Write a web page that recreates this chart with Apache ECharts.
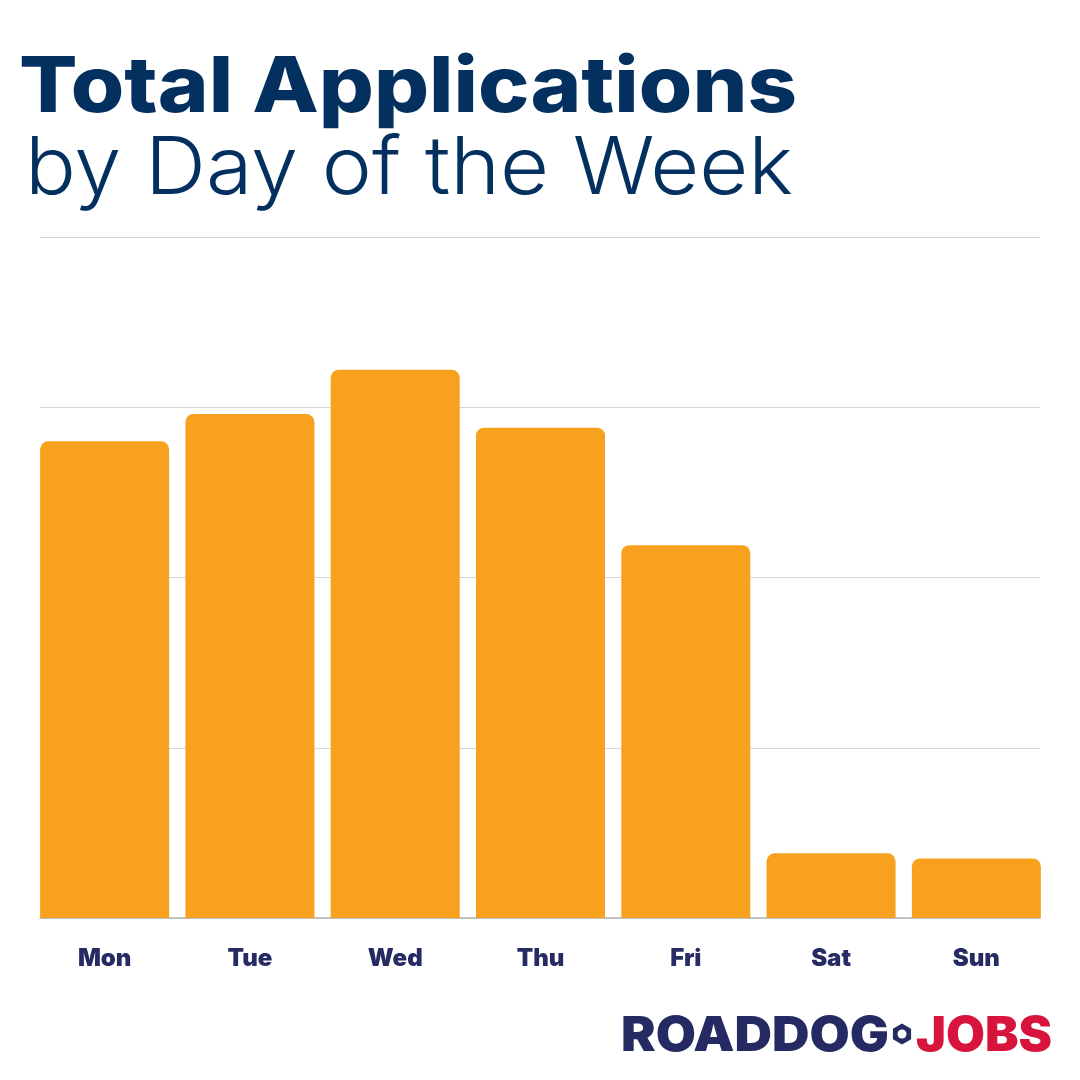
<!DOCTYPE html>
<html>
<head>
<meta charset="utf-8">
<script src="https://cdn.jsdelivr.net/npm/echarts@6/dist/echarts.min.js"></script>
<style>
html,body{margin:0;padding:0;background:#fff;}
#chart{width:1080px;height:1080px;}
</style>
</head>
<body>
<div id="chart"></div>
<script>
const titleText = 'Total Applications';
const subtitleText = 'by Day of the Week';
const days = ['Mon', 'Tue', 'Wed', 'Thu', 'Fri', 'Sat', 'Sun'];
const applications = [2.80, 2.96, 3.22, 2.88, 2.19, 0.38, 0.35];
const yMin = 0, yMax = 4, yInterval = 1;

const TF = '"Inter", "Noto Sans", sans-serif';
function textWidth(text, weight, size) {
  const ctx = document.createElement('canvas').getContext('2d');
  ctx.font = weight + ' ' + size + 'px ' + TF;
  return ctx.measureText(text).width;
}
// fixed font sizes chosen for cap height, stretched horizontally to the reference width
function scaled(text, weight, size, target) {
  return target / textWidth(text, weight, size);
}
const titleSize = 77, subSize = 80, logoSize = 48;
const titleSX = scaled(titleText, 800, titleSize, 778);
const subSX = scaled(subtitleText, 300, subSize, 768);
const logoASX = scaled('ROADDOG', 900, logoSize, 268);
const logoBSX = scaled('JOBS', 900, logoSize, 136);

function hexPoints(cx, cy, r) {
  const pts = [];
  for (let i = 0; i < 6; i++) {
    const a = Math.PI / 6 + i * Math.PI / 3;
    pts.push([cx + r * Math.cos(a), cy + r * Math.sin(a)]);
  }
  return pts;
}

const chart = echarts.init(document.getElementById('chart'));
chart.setOption({
  backgroundColor: '#ffffff',
  animation: false,
  grid: [
    { left: 32, right: 31, top: 237, bottom: 162 },
    { left: 40, right: 40, top: 237, bottom: 162 }
  ],
  xAxis: [
    {
      type: 'category', data: days, gridIndex: 0,
      axisLine: { show: false }, axisTick: { show: false },
      axisLabel: { margin: 29, color: '#272b63', fontSize: 24, fontWeight: 900, fontFamily: TF }
    },
    {
      type: 'value', gridIndex: 1, min: 0, max: 1, show: true,
      axisLine: { show: true, onZero: false, lineStyle: { color: '#b5b5b5', width: 1.5 } },
      axisTick: { show: false }, axisLabel: { show: false }, splitLine: { show: false }
    }
  ],
  yAxis: [
    {
      type: 'value', gridIndex: 0, min: yMin, max: yMax, interval: yInterval,
      axisLine: { show: false }, axisTick: { show: false }, axisLabel: { show: false },
      splitLine: { show: false }
    },
    {
      type: 'value', gridIndex: 1, min: yMin, max: yMax, interval: yInterval,
      axisLine: { show: false }, axisTick: { show: false }, axisLabel: { show: false },
      splitLine: { show: true, lineStyle: { color: '#d6d6d6', width: 1 } }, z: 0
    }
  ],
  series: [{
    type: 'bar', xAxisIndex: 0, yAxisIndex: 0, data: applications,
    barWidth: 129, z: 3,
    itemStyle: { color: '#f7a11e', borderRadius: [8, 8, 0, 0] }
  }],
  graphic: [
    { type: 'text', x: 19, y: 50, scaleX: titleSX, style: { text: titleText, font: '800 ' + titleSize + 'px ' + TF, fill: '#04305f', verticalAlign: 'top' } },
    { type: 'text', x: 25, y: 130, scaleX: subSX, style: { text: subtitleText, font: '300 ' + subSize + 'px ' + TF, fill: '#04305f', verticalAlign: 'top' } },
    { type: 'text', x: 621, y: 1013, scaleX: logoASX, style: { text: 'ROADDOG', font: '900 ' + logoSize + 'px ' + TF, fill: '#262a63', verticalAlign: 'top' } },
    { type: 'polygon', shape: { points: hexPoints(902, 1034, 10.5) }, style: { fill: '#262a63' } },
    { type: 'circle', shape: { cx: 902, cy: 1034, r: 4.5 }, style: { fill: '#ffffff' } },
    { type: 'text', x: 916, y: 1013, scaleX: logoBSX, style: { text: 'JOBS', font: '900 ' + logoSize + 'px ' + TF, fill: '#d7143c', verticalAlign: 'top' } }
  ]
});
</script>
</body>
</html>
